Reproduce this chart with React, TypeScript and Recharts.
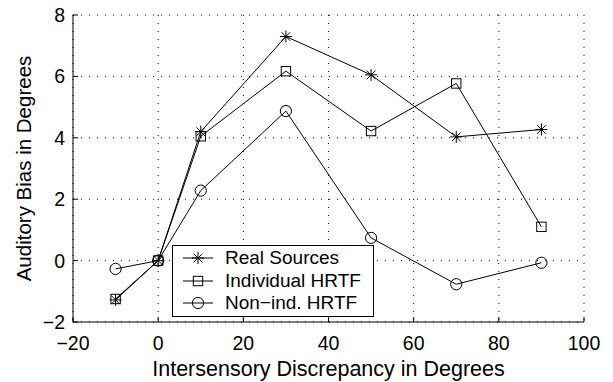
import { LineChart, Line, XAxis, YAxis, CartesianGrid } from "recharts";

const discrepancy = [-10, 0, 10, 30, 50, 70, 90];
const realSources = [-1.28, 0, 4.2, 7.3, 6.05, 4.03, 4.27];
const individualHrtf = [-1.25, 0, 4.05, 6.17, 4.22, 5.77, 1.1];
const nonIndHrtf = [-0.27, 0, 2.28, 4.87, 0.74, -0.77, -0.07];
const xTicks = [-20, 0, 20, 40, 60, 80, 100];
const yTicks = [-2, 0, 2, 4, 6, 8];

const data = discrepancy.map((x, i) => ({
  x,
  real: realSources[i],
  indiv: individualHrtf[i],
  nonind: nonIndHrtf[i],
}));

const FONT = "'Liberation Sans', Arial, Helvetica, sans-serif";
const TICK_FS = 19.5;
const fmt = (v: number) => (v < 0 ? "\u2212" + Math.abs(v) : String(v));

function Star({ cx, cy }: { cx: number; cy: number }) {
  const r = 6;
  const d = 4.3;
  return (
    <g stroke="#000" strokeWidth={1}>
      <line x1={cx - r} y1={cy} x2={cx + r} y2={cy} />
      <line x1={cx} y1={cy - r} x2={cx} y2={cy + r} />
      <line x1={cx - d} y1={cy - d} x2={cx + d} y2={cy + d} />
      <line x1={cx - d} y1={cy + d} x2={cx + d} y2={cy - d} />
    </g>
  );
}

function Square({ cx, cy }: { cx: number; cy: number }) {
  return <rect x={cx - 4.7} y={cy - 4.7} width={9.4} height={9.4} fill="none" stroke="#000" strokeWidth={1} />;
}

function Circle({ cx, cy }: { cx: number; cy: number }) {
  return <circle cx={cx} cy={cy} r={5.6} fill="none" stroke="#000" strokeWidth={1} />;
}

const dotOf = (Shape: any) => (p: any) => <Shape key={p.key ?? p.index} cx={p.cx} cy={p.cy} />;

const BottomTick = (p: any) => (
  <g>
    <line x1={p.x} y1={p.y} x2={p.x} y2={p.y - 5} stroke="#000" />
    <text x={p.x} y={p.y + 28} textAnchor="middle" fontFamily={FONT} fontSize={TICK_FS} fill="#000">
      {fmt(p.payload.value)}
    </text>
  </g>
);
const TopTick = (p: any) => <line x1={p.x} y1={p.y} x2={p.x} y2={p.y + 5} stroke="#000" />;
const LeftTick = (p: any) => (
  <g>
    <line x1={p.x} y1={p.y} x2={p.x + 5} y2={p.y} stroke="#000" />
    <text x={p.x - 8} y={p.y + 7} textAnchor="end" fontFamily={FONT} fontSize={TICK_FS} fill="#000">
      {fmt(p.payload.value)}
    </text>
  </g>
);
const RightTick = (p: any) => <line x1={p.x} y1={p.y} x2={p.x - 5} y2={p.y} stroke="#000" />;

const legendItems = [
  { label: "Real Sources", Shape: Star },
  { label: "Individual HRTF", Shape: Square },
  { label: "Non\u2212ind. HRTF", Shape: Circle },
];

export default function App() {
  return (
    <div style={{ position: "absolute", left: 0, top: 0, width: 613, height: 382, background: "#fff" }}>
      <LineChart width={613} height={382} data={data} margin={{ top: 15, right: 29, left: 0, bottom: 0 }}>
        <CartesianGrid stroke="#000" strokeDasharray="1 7" horizontalValues={yTicks} verticalValues={xTicks} />
        <XAxis
          dataKey="x"
          type="number"
          domain={[-20, 100]}
          ticks={xTicks}
          height={60}
          tickSize={0}
          tickMargin={0}
          axisLine={{ stroke: "#000" }}
          tickLine={false}
          tick={BottomTick}
          label={{ value: "Intersensory Discrepancy in Degrees", position: "insideBottom", offset: 6, fontFamily: FONT, fontSize: 21.5, fill: "#000" }}
        />
        <XAxis
          xAxisId="top"
          orientation="top"
          dataKey="x"
          type="number"
          domain={[-20, 100]}
          ticks={xTicks}
          height={0}
          tickSize={0}
          tickMargin={0}
          axisLine={{ stroke: "#000" }}
          tickLine={false}
          tick={TopTick}
        />
        <YAxis
          type="number"
          domain={[-2, 8]}
          ticks={yTicks}
          width={73}
          tickSize={0}
          tickMargin={0}
          axisLine={{ stroke: "#000" }}
          tickLine={false}
          tick={LeftTick}
          label={{ value: "Auditory Bias in Degrees", angle: -90, position: "insideLeft", offset: 24, style: { textAnchor: "middle" }, fontFamily: FONT, fontSize: 20.5, fill: "#000" }}
        />
        <YAxis
          yAxisId="right"
          orientation="right"
          type="number"
          domain={[-2, 8]}
          ticks={yTicks}
          width={0}
          tickSize={0}
          tickMargin={0}
          axisLine={{ stroke: "#000" }}
          tickLine={false}
          tick={RightTick}
        />
        <Line dataKey="real" stroke="#000" strokeWidth={1} dot={dotOf(Star)} isAnimationActive={false} />
        <Line dataKey="indiv" stroke="#000" strokeWidth={1} dot={dotOf(Square)} isAnimationActive={false} />
        <Line dataKey="nonind" stroke="#000" strokeWidth={1} dot={dotOf(Circle)} isAnimationActive={false} />
      </LineChart>
      <div
        style={{
          position: "absolute",
          left: 172,
          top: 245,
          width: 202,
          height: 72,
          boxSizing: "border-box",
          border: "1px solid #000",
          background: "#fff",
          fontFamily: FONT,
          fontSize: 19,
          paddingTop: 0.75,
        }}
      >
        {legendItems.map(({ label, Shape }) => (
          <div key={label} style={{ display: "flex", alignItems: "center", height: 22.5, lineHeight: "22px", whiteSpace: "nowrap" }}>
            <svg width={48} height={22} style={{ flex: "none", marginLeft: 4 }}>
              <line x1={6} y1={11} x2={36} y2={11} stroke="#000" />
              <Shape cx={21} cy={11} />
            </svg>
            <span>{label}</span>
          </div>
        ))}
      </div>
    </div>
  );
}
